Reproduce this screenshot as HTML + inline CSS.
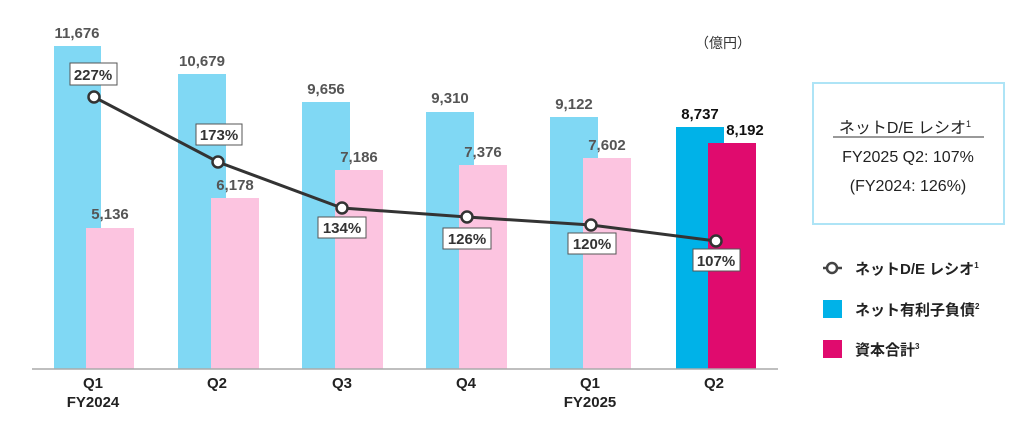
<!DOCTYPE html>
<html><head><meta charset="utf-8"><style>
body{margin:0;background:#fff;width:1024px;height:419px;overflow:hidden;font-family:"Liberation Sans","Noto Sans CJK JP",sans-serif}
</style></head><body>
<svg width="1024" height="419" xmlns="http://www.w3.org/2000/svg" font-family="Liberation Sans, Noto Sans CJK JP, sans-serif">
<g fill="#80d8f4">
<rect x="54" y="46" width="47" height="323"/>
<rect x="178" y="74" width="48" height="295"/>
<rect x="302" y="102" width="48" height="267"/>
<rect x="426" y="112" width="48" height="257"/>
<rect x="550" y="117" width="48" height="252"/>
</g>
<rect x="676" y="127" width="48" height="242" fill="#00b2e8"/>
<g fill="#fcc4e0">
<rect x="86" y="228" width="48" height="141"/>
<rect x="211" y="198" width="48" height="171"/>
<rect x="335" y="170" width="48" height="199"/>
<rect x="459" y="165" width="48" height="204"/>
<rect x="583" y="158" width="48" height="211"/>
</g>
<rect x="708" y="143" width="48" height="226" fill="#e00b6e"/>
<line x1="32" y1="369" x2="778" y2="369" stroke="#aaa" stroke-width="1.5"/>
<g font-size="15" font-weight="bold" fill="#555" text-anchor="middle">
<text x="77" y="38">11,676</text><text x="202" y="66">10,679</text><text x="326" y="94">9,656</text>
<text x="450" y="103">9,310</text><text x="574" y="109">9,122</text>
<text x="110" y="219">5,136</text><text x="235" y="190">6,178</text><text x="359" y="162">7,186</text>
<text x="483" y="157">7,376</text><text x="607" y="150">7,602</text>
<text x="700" y="119" fill="#111">8,737</text><text x="745" y="135" fill="#111">8,192</text>
</g>
<polyline points="94,97 218,162 342,208 467,217 591,225 716,241" fill="none" stroke="#333" stroke-width="3"/>
<g fill="#fff" stroke="#333" stroke-width="2.5">
<circle cx="94" cy="97" r="5.5"/><circle cx="218" cy="162" r="5.5"/><circle cx="342" cy="208" r="5.5"/>
<circle cx="467" cy="217" r="5.5"/><circle cx="591" cy="225" r="5.5"/><circle cx="716" cy="241" r="5.5"/>
</g>
<g fill="#fff" stroke="#555" stroke-width="1">
<rect x="70" y="63" width="47" height="22"/><rect x="196" y="124" width="46" height="21"/>
<rect x="318" y="217" width="48" height="21"/><rect x="443" y="228" width="48" height="21"/>
<rect x="568" y="233" width="48" height="21"/><rect x="693" y="249" width="47" height="22"/>
</g>
<g font-size="15" font-weight="bold" fill="#333" text-anchor="middle">
<text x="93" y="80">227%</text><text x="219" y="140">173%</text><text x="342" y="233">134%</text>
<text x="467" y="244">126%</text><text x="592" y="249">120%</text><text x="716" y="266">107%</text>
</g>
<g font-size="15" font-weight="bold" fill="#222" text-anchor="middle">
<text x="93" y="388">Q1</text><text x="93" y="407">FY2024</text>
<text x="217" y="388">Q2</text><text x="342" y="388">Q3</text><text x="466" y="388">Q4</text>
<text x="590" y="388">Q1</text><text x="590" y="407">FY2025</text><text x="714" y="388">Q2</text>
</g>
<text x="723" y="48" font-size="14" fill="#333" text-anchor="middle">（億円）</text>
<rect x="813" y="83" width="191" height="141" fill="#fff" stroke="#aee4f6" stroke-width="2"/>
<g font-size="16" fill="#222" text-anchor="middle">
<text x="905" y="133">ネットD/E レシオ<tspan font-size="9" dy="-6">1</tspan></text>
<line x1="833" y1="137" x2="984" y2="137" stroke="#333" stroke-width="1"/>
<text x="908" y="162">FY2025 Q2: 107%</text>
<text x="908" y="191">(FY2024: 126%)</text>
</g>
<line x1="823" y1="268" x2="842" y2="268" stroke="#444" stroke-width="2.5"/>
<circle cx="832" cy="268" r="5" fill="#fff" stroke="#444" stroke-width="2.5"/>
<rect x="823" y="300" width="19" height="18" fill="#00b2e8"/>
<rect x="823" y="340" width="19" height="18" fill="#e00b6e"/>
<g font-size="15" font-weight="bold" fill="#222">
<text x="855" y="274">ネットD/E レシオ<tspan font-size="8" dy="-6">1</tspan></text>
<text x="855" y="315">ネット有利子負債<tspan font-size="8" dy="-6">2</tspan></text>
<text x="855" y="355">資本合計<tspan font-size="8" dy="-6">3</tspan></text>
</g>
</svg>
</body></html>
